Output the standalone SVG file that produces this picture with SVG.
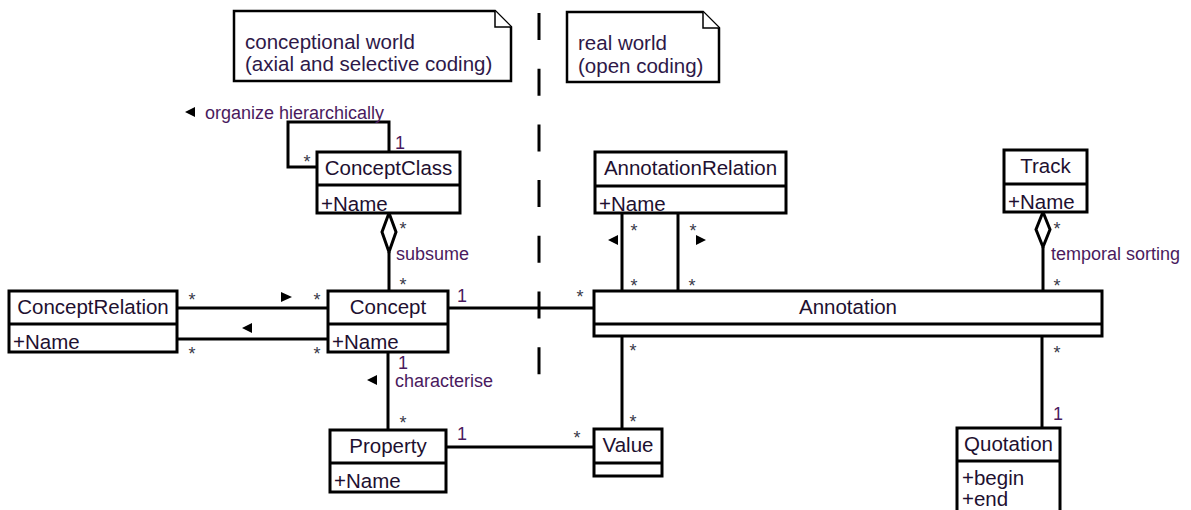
<svg xmlns="http://www.w3.org/2000/svg" width="1191" height="510" viewBox="0 0 1191 510">
  <style>
    text { font-family: "Liberation Sans", Arial, sans-serif; }
    .box { fill: #ffffff; stroke: #000000; stroke-width: 3; }
    .div { stroke: #000000; stroke-width: 3; fill: none; }
    .note { fill: #ffffff; stroke: #000000; stroke-width: 2.5; stroke-linejoin: miter; }
    .fold { fill: #ffffff; stroke: #000000; stroke-width: 1.5; }
    .cname { font-size: 20.5px; fill: #1e1030; text-anchor: middle; }
    .attr { font-size: 20.5px; fill: #1e1030; }
    .ntext { font-size: 20.5px; fill: #2e1848; }
    .lbl { font-size: 18px; fill: #4a1a5e; }
    .mult { font-size: 18px; fill: #4a1a5e; }
    .star { font-size: 18px; fill: #3a3a4a; text-anchor: middle; }
    .conn { stroke: #000000; stroke-width: 3; fill: none; }
    .agg { fill: #ffffff; stroke: #000000; stroke-width: 3; stroke-linejoin: miter; }
    .dir { fill: #000000; }
    .sep { stroke: #000000; stroke-width: 3; stroke-dasharray: 27 28.7; fill: none; }
  </style>

  <!-- boundary between the two worlds -->
  <line class="sep" x1="539" y1="13" x2="539" y2="375"/>

  <!-- notes -->
  <g id="note-conceptional">
    <path class="note" d="M234,11 H495 L511,27 V81 H234 Z"/>
    <path class="fold" d="M495,11 V27 H511"/>
    <text class="ntext" x="245" y="49">conceptional world</text>
    <text class="ntext" x="245" y="71">(axial and selective coding)</text>
  </g>
  <g id="note-real">
    <path class="note" d="M567,12 H703 L719,28 V82 H567 Z"/>
    <path class="fold" d="M703,12 V28 H719"/>
    <text class="ntext" x="578" y="50">real world</text>
    <text class="ntext" x="578" y="73">(open coding)</text>
  </g>

  <!-- connectors -->
  <g id="connectors">
    <!-- ConceptClass self association -->
    <polyline class="conn" points="317,167 288,167 288,122 389,122 389,152"/>
    <polygon class="dir" points="185,112 195,107 195,117"/>
    <text class="lbl" x="205" y="119">organize hierarchically</text>
    <text class="star" x="307" y="168">*</text>
    <text class="mult" x="395" y="149">1</text>

    <!-- ConceptClass aggregates Concept -->
    <line class="conn" x1="389" y1="252" x2="389" y2="291"/>
    <polygon class="agg" points="389,213 396,232 389,252 382,232"/>
    <text class="star" x="403" y="235">*</text>
    <text class="lbl" x="396" y="260">subsume</text>
    <text class="star" x="403" y="291">*</text>

    <!-- ConceptRelation / Concept -->
    <line class="conn" x1="177" y1="308" x2="328" y2="308"/>
    <line class="conn" x1="177" y1="339" x2="328" y2="339"/>
    <polygon class="dir" points="292,297 281,292 281,302"/>
    <polygon class="dir" points="242,328 252,323 252,333"/>
    <text class="star" x="192" y="306">*</text>
    <text class="star" x="317" y="306">*</text>
    <text class="star" x="192" y="360">*</text>
    <text class="star" x="317" y="360">*</text>

    <!-- Concept / Property -->
    <line class="conn" x1="388" y1="352" x2="388" y2="430"/>
    <polygon class="dir" points="367,380 377,375 377,385"/>
    <text class="mult" x="398" y="369">1</text>
    <text class="lbl" x="395" y="387">characterise</text>
    <text class="star" x="403" y="429">*</text>

    <!-- Concept / Annotation -->
    <line class="conn" x1="448" y1="308" x2="594" y2="308"/>
    <text class="mult" x="457" y="302">1</text>
    <text class="star" x="580" y="303">*</text>

    <!-- Property / Value -->
    <line class="conn" x1="446" y1="447" x2="594" y2="447"/>
    <text class="mult" x="457" y="440">1</text>
    <text class="star" x="577" y="444">*</text>

    <!-- Annotation / Value -->
    <line class="conn" x1="622" y1="336" x2="622" y2="429"/>
    <text class="star" x="633" y="357">*</text>
    <text class="star" x="633" y="428">*</text>

    <!-- AnnotationRelation / Annotation -->
    <line class="conn" x1="622" y1="213" x2="622" y2="291"/>
    <line class="conn" x1="678" y1="213" x2="678" y2="291"/>
    <polygon class="dir" points="608,240 618,235 618,245"/>
    <polygon class="dir" points="706,240 696,235 696,245"/>
    <text class="star" x="634" y="237">*</text>
    <text class="star" x="634" y="292">*</text>
    <text class="star" x="693" y="237">*</text>
    <text class="star" x="692" y="292">*</text>

    <!-- Track aggregates Annotation -->
    <line class="conn" x1="1043" y1="247" x2="1043" y2="291"/>
    <polygon class="agg" points="1043,212 1050,229.5 1043,247 1036,229.5"/>
    <text class="star" x="1057" y="235">*</text>
    <text class="lbl" x="1051" y="260">temporal sorting</text>
    <text class="star" x="1057" y="292">*</text>

    <!-- Annotation / Quotation -->
    <line class="conn" x1="1042" y1="336" x2="1042" y2="428"/>
    <text class="star" x="1057" y="359">*</text>
    <text class="mult" x="1053" y="420">1</text>
  </g>

  <!-- classes -->
  <g id="ConceptClass">
    <rect class="box" x="317" y="152" width="143" height="61"/>
    <line class="div" x1="317" y1="185" x2="460" y2="185"/>
    <text class="cname" x="388.5" y="175">ConceptClass</text>
    <text class="attr" x="321" y="211">+Name</text>
  </g>

  <g id="ConceptRelation">
    <rect class="box" x="9" y="291" width="168" height="61"/>
    <line class="div" x1="9" y1="324" x2="177" y2="324"/>
    <text class="cname" x="93" y="314">ConceptRelation</text>
    <text class="attr" x="13" y="349">+Name</text>
  </g>

  <g id="Concept">
    <rect class="box" x="328" y="291" width="120" height="61"/>
    <line class="div" x1="328" y1="324" x2="448" y2="324"/>
    <text class="cname" x="388" y="314">Concept</text>
    <text class="attr" x="332" y="349">+Name</text>
  </g>

  <g id="Property">
    <rect class="box" x="330" y="430" width="116" height="62"/>
    <line class="div" x1="330" y1="463" x2="446" y2="463"/>
    <text class="cname" x="388" y="453">Property</text>
    <text class="attr" x="334" y="488">+Name</text>
  </g>

  <g id="Value">
    <rect class="box" x="594" y="429" width="68" height="47"/>
    <line class="div" x1="594" y1="463" x2="662" y2="463"/>
    <text class="cname" x="628" y="452">Value</text>
  </g>

  <g id="Annotation">
    <rect class="box" x="594" y="291" width="508" height="45"/>
    <line class="div" x1="594" y1="324" x2="1102" y2="324"/>
    <text class="cname" x="848" y="314">Annotation</text>
  </g>

  <g id="AnnotationRelation">
    <rect class="box" x="595" y="152" width="191" height="61"/>
    <line class="div" x1="595" y1="186" x2="786" y2="186"/>
    <text class="cname" x="690.5" y="175">AnnotationRelation</text>
    <text class="attr" x="599" y="211">+Name</text>
  </g>

  <g id="Track">
    <rect class="box" x="1004" y="150" width="83" height="62"/>
    <line class="div" x1="1004" y1="184" x2="1087" y2="184"/>
    <text class="cname" x="1045.5" y="173">Track</text>
    <text class="attr" x="1008" y="209">+Name</text>
  </g>

  <g id="Quotation">
    <rect class="box" x="957" y="428" width="103" height="92"/>
    <line class="div" x1="957" y1="461" x2="1060" y2="461"/>
    <text class="cname" x="1008.5" y="451">Quotation</text>
    <text class="attr" x="962" y="485">+begin</text>
    <text class="attr" x="962" y="506">+end</text>
  </g>
</svg>
